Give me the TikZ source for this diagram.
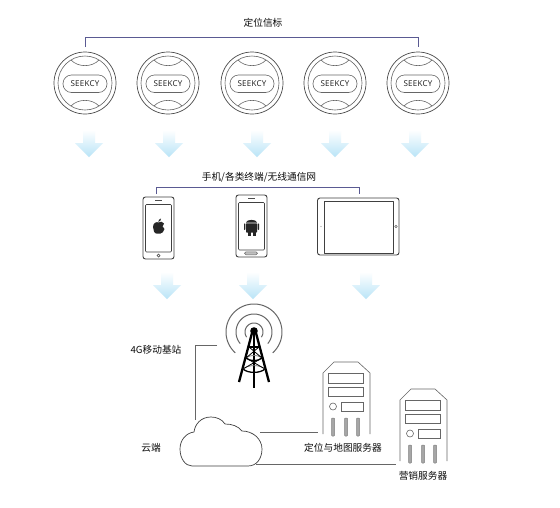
\documentclass[tikz,border=0pt]{standalone}
\usepackage{fontspec}
\setmainfont{Noto Sans CJK SC}
\newfontfamily\latinfont[LetterSpace=3]{Open Sans}
\definecolor{brk}{HTML}{5A5A92}
\definecolor{arrowlow}{HTML}{B9E4F7}
\definecolor{arrowmid}{HTML}{DDE9FA}
\begin{document}
\begin{tikzpicture}[x=1pt,y=-1pt,
  lab/.style={inner sep=0pt,font=\fontsize{9.7}{10}\selectfont,text=black!95},
  bracket/.style={draw=brk,line width=0.8pt},
  link/.style={draw=black!60,line width=0.8pt},
  outline/.style={draw=black!75,line width=0.9pt,line join=round},
  thin outline/.style={draw=black!60,line width=0.6pt},
  ring/.style={draw=black!60,line width=1pt},
  tw/.style={draw=black,line width=1.5pt},
  coin/.style={circle,draw=black!70,line width=0.7pt,minimum size=62pt,inner sep=0pt},
  brand/.style={inner sep=0pt,font=\latinfont\fontsize{8}{8}\selectfont,text=black!90},
]
\useasboundingbox (0,0) rectangle (560,507);
\fill[white] (0,0) rectangle (560,507);
\newcommand{\beacon}[2]{%
  \node[coin] (#2) at (#1,83) {};
  \draw[thin outline] (#1,83) circle[radius=27];
  \draw[thin outline] (#1-14,60) .. controls (#1-7,67.5) and (#1+7,67.5) .. (#1+14,60);
  \draw[thin outline] (#1-14,106) .. controls (#1-7,98.5) and (#1+7,98.5) .. (#1+14,106);
  \draw[thin outline,fill=white,rounded corners=8.5pt] (#1-22,75) rectangle (#1+22,92.5);
  \node[brand] (#2t) at (#1,84) {SEEKCY};
}
\newcommand{\dnarrow}[2]{%
  \shade[top color=white,middle color=arrowmid,bottom color=arrowlow]
    (#1-6,#2) -- (#1+6,#2) -- (#1+6,#2+13) -- (#1+14,#2+13) -- (#1,#2+27) -- (#1-14,#2+13) -- (#1-6,#2+13) -- cycle;
}
\newcommand{\server}[3]{%
  \coordinate (#3) at (#1,#2);
  \draw[thin outline] (#1,#2+72) -- (#1,#2+11) -- (#1+11,#2) -- (#1+35,#2) -- (#1+47,#2+11) -- (#1+47,#2+72);
  \draw[thin outline] (#1+5,#2+11.5) rectangle (#1+40,#2+21);
  \draw[thin outline] (#1+5,#2+25) rectangle (#1+40,#2+34);
  \draw[thin outline] (#1+10,#2+44.5) circle[radius=3.5];
  \draw[thin outline] (#1+18,#2+40) rectangle (#1+40,#2+49);
  \foreach \dx in {10,23,35}{
    \draw[draw=black!50,line width=0.5pt,fill=black!35,rounded corners=0.8pt] (#1+\dx-1.5,#2+56) rectangle (#1+\dx+1.5,#2+74);
  }
}

% top row
\beacon{85}{b1}\beacon{168}{b2}\beacon{252}{b3}\beacon{335}{b4}\beacon{418}{b5}
\node[lab] (t1) at (263,23) {定位信标};
\coordinate (brL) at (85,47); \coordinate (brR) at (418,47);
\draw[bracket] (brL) -- (85,37) -- (418,37) -- (brR);
\dnarrow{89}{130}\dnarrow{169}{130}\dnarrow{257}{130}\dnarrow{335}{130}\dnarrow{415}{130}

% devices
\node[lab] (t2) at (259,177) {手机/各类终端/无线通信网};
\coordinate (drL) at (156,194); \coordinate (drR) at (359,194);
\draw[bracket] (drL) -- (156,187) -- (359,187) -- (drR);

\draw[outline,rounded corners=2.5pt] (143,197) rectangle (174,259);
\draw[outline,rounded corners=1pt,line width=0.6pt] (145.5,204.5) rectangle (171.5,252);
\draw[black!70,line width=0.7pt] (155,200.8) -- (162,200.8);
\draw[black!70,line width=0.7pt] (158.5,255.5) circle[radius=1.5];
% apple logo
\fill[black!85] (158.5,222.5) .. controls (160,221.3) and (163,221.3) .. (164,223.5)
  .. controls (162,224.8) and (162,228) .. (164.5,229)
  .. controls (163.8,231.5) and (162,233.8) .. (160.5,233.5)
  .. controls (159,233) and (158,233) .. (156.5,233.5)
  .. controls (154.5,233.8) and (153,230) .. (153,227)
  .. controls (153,223) and (156.5,221.3) .. cycle;
\fill[black!85] (158.3,221.8) .. controls (158.2,220) and (159.5,219) .. (161,218.5)
  .. controls (161.2,220.3) and (160,221.5) .. cycle;

\draw[outline,rounded corners=2.5pt] (236,195) rectangle (267,257);
\draw[outline,rounded corners=1pt,line width=0.6pt] (238.5,202.5) rectangle (264.5,250);
\draw[black!70,line width=0.7pt] (248,198.8) -- (255,198.8);
\draw[black!60,fill=black!25,line width=0.5pt,rounded corners=1.5pt] (244.5,251.8) rectangle (257.5,254.8);
% android logo
\fill[black!85] (246,222.5) .. controls (246.5,219) and (256.5,219) .. (257,222.5) -- cycle;
\fill[black!85,rounded corners=0.6pt] (246,223.3) rectangle (257,232.5);
\fill[black!85] (247.5,232) rectangle (250.5,235.5);
\fill[black!85] (252.5,232) rectangle (255.5,235.5);
\fill[black!85,rounded corners=0.7pt] (244,223.3) rectangle (245.4,230);
\fill[black!85,rounded corners=0.7pt] (257.6,223.3) rectangle (259,230);

\draw[outline,rounded corners=2.5pt] (317.5,198) rectangle (399,255);
\draw[outline,line width=0.6pt] (324.5,201) rectangle (393,253);
\draw[black!60,line width=0.5pt] (396,226.5) circle[radius=1.3];
\fill[black!40] (321,226.5) circle[radius=0.6];

\dnarrow{167}{272}\dnarrow{253}{272}\dnarrow{366}{272}

% tower
\draw[ring] plot[domain=132:408,samples=60,smooth] ({254+28*cos(\x)},{332+28*sin(\x)});
\draw[ring] plot[domain=140:400,samples=50,smooth] ({254+18*cos(\x)},{332+18*sin(\x)});
\draw[ring] plot[domain=145:395,samples=40,smooth] ({254+9*cos(\x)},{332+9*sin(\x)});
\fill[black] (254,331) circle[radius=3.8];
\draw[tw,line width=2.3pt] (252,333) -- (239,382);
\draw[tw,line width=2.3pt] (256,333) -- (269,382);
\draw[tw,line width=2.4pt] (254,333) -- (254,388);
\draw[tw,line width=1.2pt] (249,347) -- (259,347);
\draw[tw,line width=1.3pt] (246,358) .. controls (250,361.5) and (258,361.5) .. (262,358);
\draw[black!55,line width=0.7pt] (246,358) .. controls (250,354.5) and (258,354.5) .. (262,358);
\draw[tw,line width=1.3pt] (243,369) .. controls (248,373.5) and (260,373.5) .. (265,369);
\draw[black!55,line width=0.7pt] (243,369) .. controls (248,364.5) and (260,364.5) .. (265,369);
\draw[tw,line width=0.8pt] (249,347) -- (262,358) (259,347) -- (246,358) (246,358) -- (265,369) (262,358) -- (243,369);
\node[lab] (t3) at (156,350) {4G移动基站};

% cloud
\draw[outline,fill=white,line width=0.7pt] (192,466) -- (248,466)
  .. controls (257,466) and (262,458) .. (262,449)
  .. controls (262,439) and (253,431) .. (242,431)
  .. controls (238,426) and (232,424) .. (225,424)
  .. controls (222,419) and (216,417) .. (211,417)
  .. controls (201,417) and (195,424) .. (194,432)
  .. controls (186,433) and (180,440) .. (180,449)
  .. controls (180,458) and (185,466) .. (192,466) -- cycle;
\node[lab] (t4) at (151,448) {云端};

% servers
\server{323}{362}{s1}
\server{400}{389}{s2}
\node[lab] (t5) at (343,448) {定位与地图服务器};
\node[lab] (t6) at (423,476) {营销服务器};

% links
\coordinate (twrL) at (217,345); \coordinate (clT) at (195,420);
\coordinate (clR1) at (260,432); \coordinate (srv1) at (318,432);
\coordinate (clR2) at (256,464); \coordinate (srv2) at (396,464);
\draw[link] (twrL) -- (195,345) -- (clT);
\draw[link] (clR1) -- (srv1);
\draw[link] (clR2) -- (srv2);
\end{tikzpicture}
\end{document}
